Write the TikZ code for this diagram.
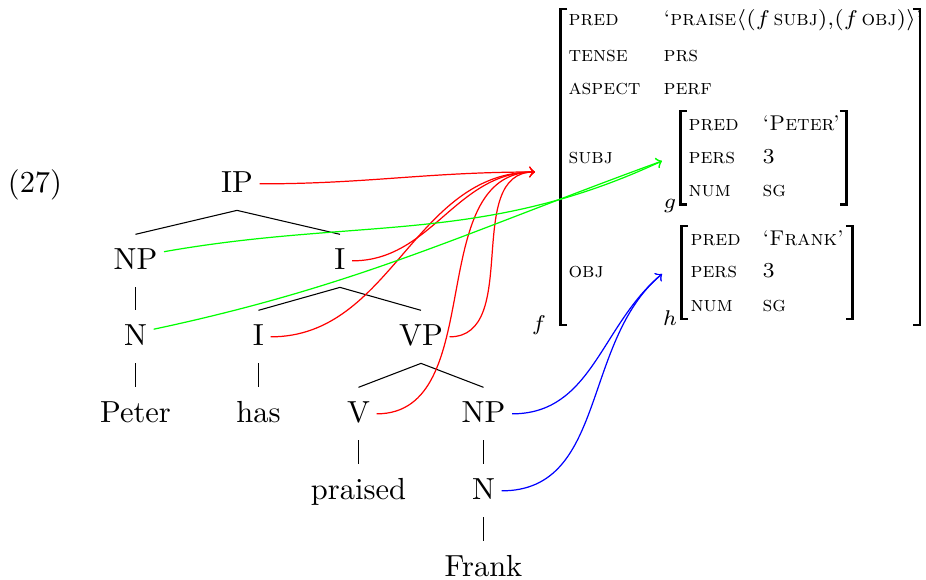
\documentclass[tikz,border=0pt]{standalone}
\usepackage{tikz}

\begin{document}
\begin{tikzpicture}[x=0.328pt,y=-0.328pt,>=to]

  \tikzstyle{cat}=[anchor=base,text height=7.5pt,text depth=1.5pt,inner xsep=2pt,inner ysep=4pt]
  \tikzstyle{feat}=[anchor=base west,inner sep=0pt,font=\scriptsize]
  \tikzstyle{fname}=[anchor=base,inner sep=0pt,font=\scriptsize]
  \tikzstyle{brack}=[line width=0.8pt]

  \path[use as bounding box] (0,0) rectangle (926,580);

  \node[cat] (ex)      at (35,193)    {(27)};
  \node[cat] (IP)      at (237,193)   {IP};
  \node[cat] (NPs)     at (135.5,270) {NP};
  \node[cat] (Ibar)    at (340,270)   {I};
  \node[cat] (Ns)      at (135.5,346) {N};
  \node[cat] (I)       at (258.5,346) {I};
  \node[cat] (VP)      at (421,346)   {VP};
  \node[cat] (Peter)   at (135.5,423) {Peter};
  \node[cat] (has)     at (258.5,423) {has};
  \node[cat] (V)       at (358.5,423) {V};
  \node[cat] (NPo)     at (483.5,423) {NP};
  \node[cat] (praised) at (358.5,500) {praised};
  \node[cat] (No)      at (483.5,500) {N};
  \node[cat] (Frank)   at (483.5,577) {Frank};

  \path[line width=0.35pt]
  (IP.south)   edge (NPs.north)
  (IP.south)   edge (Ibar.north)
  (NPs.south)  edge (Ns.north)
  (Ns.south)   edge (Peter.north)
  (Ibar.south) edge (I.north)
  (Ibar.south) edge (VP.north)
  (I.south)    edge (has.north)
  (VP.south)   edge (V.north)
  (VP.south)   edge (NPo.north)
  (V.south)    edge (praised.north)
  (NPo.south)  edge (No.north)
  (No.south)   edge (Frank.north);

  \node[feat] (fpred)   at (568,26)  {\textsc{pred}};
  \node[feat] (fpredv)  at (663,26)  {\textsc{`praise}$\langle$($f$\,\textsc{subj}),($f$\,\textsc{obj})$\rangle$'};
  \node[feat] (ftense)  at (568,62)  {\textsc{tense}};
  \node[feat] (ftensev) at (663,62)  {\textsc{prs}};
  \node[feat] (fasp)    at (568,95)  {\textsc{aspect}};
  \node[feat] (faspv)   at (663,95)  {\textsc{perf}};
  \node[feat] (fsubj)   at (568,164) {\textsc{subj}};
  \node[feat] (fobj)    at (568,278) {\textsc{obj}};

  \node[feat] (gpred)   at (688,131) {\textsc{pred}};
  \node[feat] (gpredv)  at (762,131) {\textsc{`Peter'}};
  \node[feat] (gpers)   at (688,164) {\textsc{pers}};
  \node[feat] (gpersv)  at (762,164) {3};
  \node[feat] (gnum)    at (688,197) {\textsc{num}};
  \node[feat] (gnumv)   at (762,197) {\textsc{sg}};

  \node[feat] (hpred)   at (690,246) {\textsc{pred}};
  \node[feat] (hpredv)  at (762,246) {\textsc{`Frank'}};
  \node[feat] (hpers)   at (690,278) {\textsc{pers}};
  \node[feat] (hpersv)  at (762,278) {3};
  \node[feat] (hnum)    at (690,312) {\textsc{num}};
  \node[feat] (hnumv)   at (762,312) {\textsc{sg}};

  \node[fname] (flab) at (539,331) {$f$};
  \node[fname] (glab) at (670,209) {$g$};
  \node[fname] (hlab) at (670,326) {$h$};

  \draw[brack] (567.5,9) -| (560.5,325) -- (567.5,325);
  \draw[brack] (913,9) -| (920,325) -- (913,325);
  \draw[brack] (687,111) -| (680.5,204.5) -- (687,204.5);
  \draw[brack] (840,111) -| (846.5,204.5) -- (840,204.5);
  \draw[brack] (688,226) -| (681.5,319) -- (688,319);
  \draw[brack] (846,226) -| (852.5,319) -- (846,319);

  \coordinate (f) at (535,172);
  \coordinate (g) at (662,161);
  \coordinate (h) at (662,274);

  \path[->,red]
  (IP)   edge [out=0,in=180] (f)
  (Ibar) edge [out=0,in=180] (f)
  (I)    edge [out=0,in=180] (f)
  (VP)   edge [out=0,in=180] (f)
  (V)    edge [out=0,in=180] (f);

  \path[->,green]
  ([yshift=3pt]NPs.east) edge [out=10,in=205] (g)
  ([yshift=2.5pt]Ns.east) edge [out=12,in=200] (g);

  \path[->,blue]
  (NPo) edge [out=0,in=220] (h)
  (No)  edge [out=0,in=220] (h);
\end{tikzpicture}
\end{document}
